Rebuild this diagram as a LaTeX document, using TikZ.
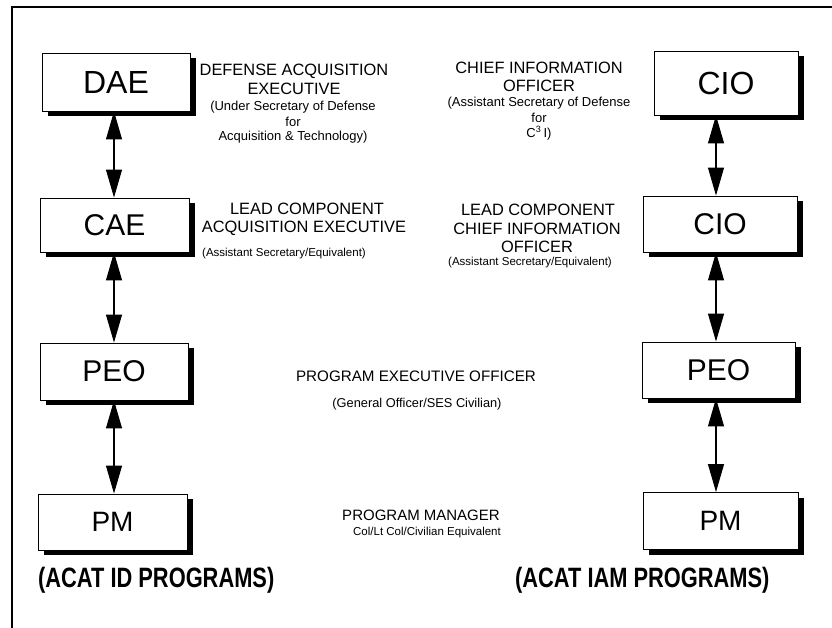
\documentclass[tikz,border=0pt]{standalone}
\usepackage{fontspec}
\setmainfont{Liberation Sans}
\usetikzlibrary{arrows.meta}
\begin{document}
\begin{tikzpicture}[x=1pt,y=-1pt,
  orgbox/.style={draw=black, line width=0.9pt, fill=white, inner sep=0pt,
    preaction={fill=black, transform canvas={shift={(6pt,-5pt)}}},
    font=\fontsize{30}{32}\selectfont},
  head/.style={inner sep=0pt, font=\fontsize{16.4}{18}\selectfont},
  sub/.style={inner sep=0pt, font=\fontsize{13}{15}\selectfont},
  prog/.style={inner sep=0pt, anchor=west, font=\bfseries\fontsize{28}{30}\selectfont, xscale=0.78},
  link/.style={line width=1.1pt, {Triangle[length=28pt,width=16pt]}-{Triangle[length=28pt,width=16pt]}},
  frame/.style={line width=2.5pt}
]
\useasboundingbox (0,0) rectangle (832,628);
% frame
\coordinate (fA) at (12,628);
\coordinate (fB) at (12,7);
\coordinate (fC) at (832,7);
\draw[frame] (fA) -- (fB) -- (fC);

% column axes
\coordinate (L) at (114,0);
\coordinate (R) at (716,0);

% left boxes
\node[orgbox, minimum width=148pt, minimum height=58pt, font=\fontsize{32}{34}\selectfont] (DAE) at (116,82) {DAE};
\node[orgbox, minimum width=149pt, minimum height=54pt] (CAE) at (114.5,225) {CAE};
\node[orgbox, minimum width=148pt, minimum height=57pt] (PEOL) at (114,371.5) {PEO};
\node[orgbox, minimum width=149pt, minimum height=56pt, font=\fontsize{28}{30}\selectfont] (PML) at (112.5,522) {PM};

% right boxes
\node[orgbox, minimum width=144pt, minimum height=64pt, font=\fontsize{32}{34}\selectfont] (CIOA) at (726,83) {CIO};
\node[orgbox, minimum width=154pt, minimum height=56pt] (CIOB) at (720,224) {CIO};
\node[orgbox, minimum width=153pt, minimum height=56pt] (PEOR) at (718.5,370) {PEO};
\node[orgbox, minimum width=155pt, minimum height=57pt, font=\fontsize{28}{30}\selectfont] (PMR) at (720.5,521) {PM};

% connectors
\draw[link] (DAE.south -| L) -- (CAE.north -| L);
\draw[link] (CAE.south -| L) -- (PEOL.north -| L);
\draw[link] (PEOL.south -| L) -- (PML.north -| L);
\draw[link] (CIOA.south -| R) -- (CIOB.north -| R);
\draw[link] (CIOB.south -| R) -- (PEOR.north -| R);
\draw[link] (PEOR.south -| R) -- (PMR.north -| R);

% DAE description
\node[head] (t1) at (294,71) {DEFENSE ACQUISITION};
\node[head] (t2) at (294,89) {EXECUTIVE};
\node[sub] (t3) at (293,107) {(Under Secretary of Defense};
\node[sub] (t4) at (293,122) {for};
\node[sub] (t5) at (293,137) {Acquisition \& Technology)};

% CIO description
\node[head] (u1) at (539,68) {CHIEF INFORMATION};
\node[head] (u2) at (539,86) {OFFICER};
\node[sub] (u3) at (539,103) {(Assistant Secretary of Defense};
\node[sub] (u4) at (539,118) {for};
\node[sub] (u5) at (539,133) {C\textsuperscript{3}\,I)};

% CAE description
\node[head] (v1) at (307,209) {LEAD COMPONENT};
\node[head] (v2) at (304,228) {ACQUISITION EXECUTIVE};
\node[sub, font=\fontsize{11.5}{13}\selectfont] (v3) at (284,254) {(Assistant Secretary/Equivalent)};

% CIO component description
\node[head] (w1) at (538,210) {LEAD COMPONENT};
\node[head] (w2) at (537,229) {CHIEF INFORMATION};
\node[head] (w3) at (537,247) {OFFICER};
\node[sub, font=\fontsize{11.5}{13}\selectfont] (w4) at (530,263) {(Assistant Secretary/Equivalent)};

% PEO description
\node[head, font=\fontsize{15.2}{17}\selectfont] (p1) at (416,376) {PROGRAM EXECUTIVE OFFICER};
\node[sub, font=\fontsize{12.8}{14}\selectfont] (p2) at (417,404) {(General Officer/SES Civilian)};

% PM description
\node[head, font=\fontsize{15}{17}\selectfont] (m1) at (421,515) {PROGRAM MANAGER};
\node[sub, font=\fontsize{11.5}{13}\selectfont] (m2) at (427,533) {Col/Lt Col/Civilian Equivalent};

% program labels
\node[prog] (acl) at (38,580) {(ACAT ID PROGRAMS)};
\node[prog] (acr) at (515,580) {(ACAT IAM PROGRAMS)};
\end{tikzpicture}
\end{document}
